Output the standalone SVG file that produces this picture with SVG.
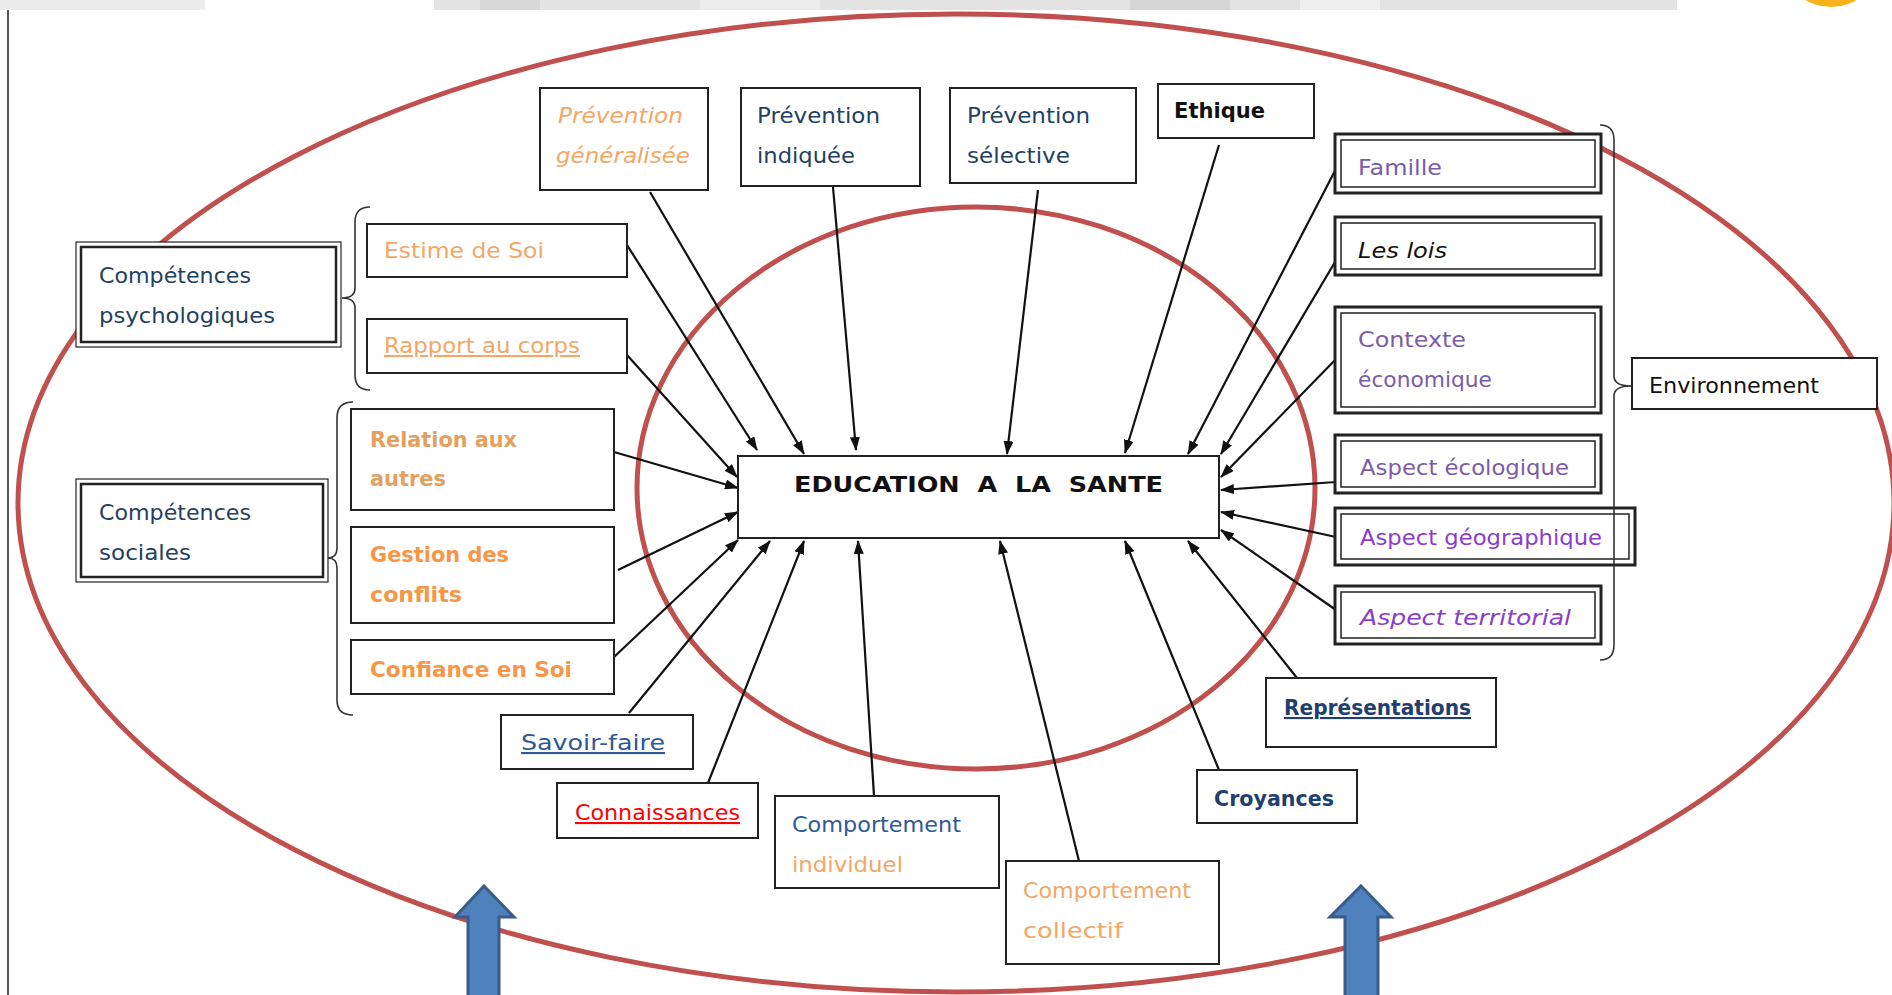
<svg xmlns="http://www.w3.org/2000/svg" width="1892" height="995" viewBox="0 0 1892 995">
<style>
  text { font-family: "DejaVu Sans", "Liberation Sans", sans-serif; font-size: 21px; }
  .b { font-weight: bold; }
  .i { font-style: italic; }
  .u { text-decoration: underline; }
  .navy { fill: #243F60; }
  .lor { fill: #F2A766; }
  .mor { fill: #E3A05E; }
  .or { fill: #F79646; }
  .pur { fill: #7A5CA8; }
  .vio { fill: #8A3CD0; }
  .blu { fill: #2F5897; }
  .dblu { fill: #1F3F70; }
  .red { fill: #FF0000; }
  .blk { fill: #111; }
  .box { fill: #fff; stroke: #222; stroke-width: 2; }
  .dout { fill: #fff; stroke: #222; stroke-width: 3; }
  .din { fill: none; stroke: #222; stroke-width: 1.5; }
  .lout { fill: #fff; stroke: #222; stroke-width: 1.2; }
  .lin { fill: none; stroke: #222; stroke-width: 2.5; }
  .ell { fill: none; stroke: #C0504D; stroke-width: 5; }
  .con { stroke: #111; stroke-width: 2.2; fill: none; marker-end: url(#ah); }
  .brace { fill: none; stroke: #333; stroke-width: 1.6; }
  .barrow { fill: #4F81BD; stroke: #385D8A; stroke-width: 3; }
</style>
<defs>
  <marker id="ah" markerUnits="userSpaceOnUse" markerWidth="14" markerHeight="10" refX="13" refY="5" orient="auto">
    <path d="M0,0 L14,5 L0,10 z" fill="#111"/>
  </marker>
</defs>
<rect x="0" y="0" width="1892" height="995" fill="#fff"/>
<!-- top strip -->
<g id="top-strip">
  <rect x="0" y="0" width="205" height="10" fill="#ececec"/>
  <rect x="434" y="0" width="1243" height="10" fill="#e3e3e3"/>
  <rect x="480" y="0" width="60" height="10" fill="#d8d8d8"/>
  <rect x="700" y="0" width="120" height="10" fill="#ededed"/>
  <rect x="1130" y="0" width="100" height="10" fill="#d6d6d6"/>
  <rect x="1300" y="0" width="80" height="10" fill="#eeeeee"/>
  <ellipse cx="1831" cy="-32" rx="45" ry="39" fill="#F5B21B"/>
  <line x1="8" y1="10" x2="8" y2="995" stroke="#555" stroke-width="2"/>
</g>
<!-- ellipses -->
<g id="ellipses">
  <ellipse class="ell" cx="956" cy="503" rx="938" ry="489"/>
  <ellipse class="ell" cx="976" cy="488" rx="339" ry="281"/>
</g>
<!-- connectors -->
<g id="connectors">
  <line class="con" x1="627" y1="245" x2="757" y2="450"/>
  <line class="con" x1="650" y1="192" x2="804" y2="454"/>
  <line class="con" x1="833" y1="187" x2="856" y2="450"/>
  <line class="con" x1="1038" y1="190" x2="1007" y2="454"/>
  <line class="con" x1="1219" y1="145" x2="1125" y2="453"/>
  <line class="con" x1="1338" y1="165" x2="1188" y2="454"/>
  <line class="con" x1="1338" y1="257" x2="1221" y2="454"/>
  <line class="con" x1="1337" y1="358" x2="1221" y2="477"/>
  <line class="con" x1="1336" y1="482" x2="1221" y2="490"/>
  <line class="con" x1="1336" y1="537" x2="1221" y2="512"/>
  <line class="con" x1="1336" y1="610" x2="1221" y2="530"/>
  <line class="con" x1="1297" y1="678" x2="1188" y2="541"/>
  <line class="con" x1="1219" y1="770" x2="1125" y2="541"/>
  <line class="con" x1="1079" y1="861" x2="1000" y2="541"/>
  <line class="con" x1="874" y1="796" x2="858" y2="541"/>
  <line class="con" x1="708" y1="783" x2="804" y2="541"/>
  <line class="con" x1="629" y1="713" x2="770" y2="541"/>
  <line class="con" x1="614" y1="657" x2="738" y2="540"/>
  <line class="con" x1="618" y1="570" x2="738" y2="512"/>
  <line class="con" x1="614" y1="452" x2="738" y2="488"/>
  <line class="con" x1="627" y1="355" x2="737" y2="477"/>
</g>
<!-- center -->
<g id="education-sante">
  <rect class="box" x="738" y="456" width="481" height="82" stroke-width="1.6"/>
  <text class="b blk" x="794" y="492" textLength="369" lengthAdjust="spacingAndGlyphs" font-size="24" xml:space="preserve">EDUCATION  A  LA  SANTE</text>
</g>
<!-- top nodes -->
<g id="prevention-generalisee">
  <rect class="box" x="540" y="88" width="168" height="102"/>
  <text class="i lor" x="558" y="123" textLength="125" lengthAdjust="spacingAndGlyphs">Prévention</text>
  <text class="i lor" x="556" y="163" textLength="134" lengthAdjust="spacingAndGlyphs">généralisée</text>
</g>
<g id="prevention-indiquee">
  <rect class="box" x="741" y="88" width="179" height="98"/>
  <text class="navy" x="757" y="123" textLength="123" lengthAdjust="spacingAndGlyphs">Prévention</text>
  <text class="navy" x="757" y="163" textLength="98" lengthAdjust="spacingAndGlyphs">indiquée</text>
</g>
<g id="prevention-selective">
  <rect class="box" x="950" y="88" width="186" height="95"/>
  <text class="navy" x="967" y="123" textLength="123" lengthAdjust="spacingAndGlyphs">Prévention</text>
  <text class="navy" x="967" y="163" textLength="103" lengthAdjust="spacingAndGlyphs">sélective</text>
</g>
<g id="ethique">
  <rect class="box" x="1158" y="84" width="156" height="54"/>
  <text class="b blk" x="1174" y="118" textLength="91" lengthAdjust="spacingAndGlyphs">Ethique</text>
</g>
<!-- right nodes -->
<g id="famille">
  <rect class="dout" x="1335" y="134" width="266" height="59"/>
  <rect class="din" x="1341" y="140" width="254" height="47"/>
  <text class="pur" x="1358" y="175" textLength="84" lengthAdjust="spacingAndGlyphs">Famille</text>
</g>
<g id="les-lois">
  <rect class="dout" x="1335" y="217" width="266" height="58"/>
  <rect class="din" x="1341" y="223" width="254" height="46"/>
  <text class="i blk" x="1358" y="258" textLength="89" lengthAdjust="spacingAndGlyphs">Les lois</text>
</g>
<g id="contexte-economique">
  <rect class="dout" x="1335" y="307" width="266" height="106"/>
  <rect class="din" x="1341" y="313" width="254" height="94"/>
  <text class="pur" x="1358" y="347" textLength="108" lengthAdjust="spacingAndGlyphs">Contexte</text>
  <text class="pur" x="1358" y="387" textLength="134" lengthAdjust="spacingAndGlyphs">économique</text>
</g>
<g id="aspect-ecologique">
  <rect class="dout" x="1335" y="435" width="266" height="58"/>
  <rect class="din" x="1341" y="441" width="254" height="46"/>
  <text class="pur" x="1360" y="475" textLength="209" lengthAdjust="spacingAndGlyphs">Aspect écologique</text>
</g>
<g id="aspect-geographique">
  <rect class="dout" x="1335" y="508" width="300" height="57"/>
  <rect class="din" x="1341" y="514" width="288" height="45"/>
  <text class="vio" x="1360" y="545" textLength="242" lengthAdjust="spacingAndGlyphs">Aspect géographique</text>
</g>
<g id="aspect-territorial">
  <rect class="dout" x="1335" y="586" width="266" height="58"/>
  <rect class="din" x="1341" y="592" width="254" height="46"/>
  <text class="i vio" x="1360" y="625" textLength="211" lengthAdjust="spacingAndGlyphs">Aspect territorial</text>
</g>
<g id="environnement">
  <rect class="box" x="1632" y="358" width="245" height="51"/>
  <text class="blk" x="1649" y="393" textLength="170" lengthAdjust="spacingAndGlyphs">Environnement</text>
</g>
<!-- bottom nodes -->
<g id="representations">
  <rect class="box" x="1266" y="678" width="230" height="69"/>
  <text class="b u dblu" x="1284" y="715" textLength="187" lengthAdjust="spacingAndGlyphs">Représentations</text>
</g>
<g id="croyances">
  <rect class="box" x="1197" y="770" width="160" height="53"/>
  <text class="b dblu" x="1214" y="806" textLength="120" lengthAdjust="spacingAndGlyphs">Croyances</text>
</g>
<g id="comportement-collectif">
  <rect class="box" x="1006" y="861" width="213" height="103"/>
  <text class="lor" x="1023" y="898" textLength="168" lengthAdjust="spacingAndGlyphs">Comportement</text>
  <text class="lor" x="1023" y="938" textLength="100" lengthAdjust="spacingAndGlyphs">collectif</text>
</g>
<g id="comportement-individuel">
  <rect class="box" x="775" y="796" width="224" height="92"/>
  <text class="blu" x="792" y="832" textLength="169" lengthAdjust="spacingAndGlyphs">Comportement</text>
  <text class="lor" x="792" y="872" textLength="111" lengthAdjust="spacingAndGlyphs">individuel</text>
</g>
<g id="connaissances">
  <rect class="box" x="557" y="783" width="201" height="55"/>
  <text class="u red" x="575" y="820" textLength="165" lengthAdjust="spacingAndGlyphs">Connaissances</text>
</g>
<g id="savoir-faire">
  <rect class="box" x="501" y="715" width="192" height="54"/>
  <text class="u blu" x="521" y="750" textLength="144" lengthAdjust="spacingAndGlyphs">Savoir-faire</text>
</g>
<!-- left nodes -->
<g id="competences-psychologiques">
  <rect class="lout" x="76" y="242" width="265" height="105"/>
  <rect class="lin" x="81" y="247" width="255" height="95"/>
  <text class="navy" x="99" y="283" textLength="152" lengthAdjust="spacingAndGlyphs">Compétences</text>
  <text class="navy" x="99" y="323" textLength="176" lengthAdjust="spacingAndGlyphs">psychologiques</text>
</g>
<g id="estime-de-soi">
  <rect class="box" x="367" y="224" width="260" height="53"/>
  <text class="lor" x="384" y="258" textLength="160" lengthAdjust="spacingAndGlyphs">Estime de Soi</text>
</g>
<g id="rapport-au-corps">
  <rect class="box" x="367" y="319" width="260" height="54"/>
  <text class="u lor" x="384" y="353" textLength="196" lengthAdjust="spacingAndGlyphs">Rapport au corps</text>
</g>
<g id="competences-sociales">
  <rect class="lout" x="76" y="479" width="252" height="103"/>
  <rect class="lin" x="81" y="484" width="242" height="93"/>
  <text class="navy" x="99" y="520" textLength="152" lengthAdjust="spacingAndGlyphs">Compétences</text>
  <text class="navy" x="99" y="560" textLength="92" lengthAdjust="spacingAndGlyphs">sociales</text>
</g>
<g id="relation-aux-autres">
  <rect class="box" x="351" y="409" width="263" height="101"/>
  <text class="b mor" x="370" y="447" textLength="147" lengthAdjust="spacingAndGlyphs">Relation aux</text>
  <text class="b mor" x="370" y="486" textLength="76" lengthAdjust="spacingAndGlyphs">autres</text>
</g>
<g id="gestion-des-conflits">
  <rect class="box" x="351" y="527" width="263" height="96"/>
  <text class="b or" x="370" y="562" textLength="139" lengthAdjust="spacingAndGlyphs">Gestion des</text>
  <text class="b or" x="370" y="602" textLength="92" lengthAdjust="spacingAndGlyphs">conflits</text>
</g>
<g id="confiance-en-soi">
  <rect class="box" x="351" y="640" width="263" height="54"/>
  <text class="b or" x="370" y="677" textLength="202" lengthAdjust="spacingAndGlyphs">Confiance en Soi</text>
</g>
<!-- braces -->
<g id="braces">
  <path class="brace" d="M370,207 Q355,207 355,222 L355,288 Q355,298 342,298 Q355,298 355,308 L355,375 Q355,390 370,390"/>
  <path class="brace" d="M353,402 Q337,402 337,418 L337,548 Q337,558 328,558 Q337,558 337,568 L337,700 Q337,715 353,715"/>
  <path class="brace" d="M1600,125 Q1614,125 1614,140 L1614,376 Q1614,386 1631,386 Q1614,386 1614,396 L1614,645 Q1614,660 1600,660"/>
</g>
<!-- blue arrows -->
<g id="blue-arrows">
  <polygon class="barrow" points="484,886 514,917 499,917 499,1000 468,1000 468,917 455,917"/>
  <polygon class="barrow" points="1361,886 1391,917 1378,917 1378,1000 1345,1000 1345,917 1330,917"/>
</g>
</svg>
